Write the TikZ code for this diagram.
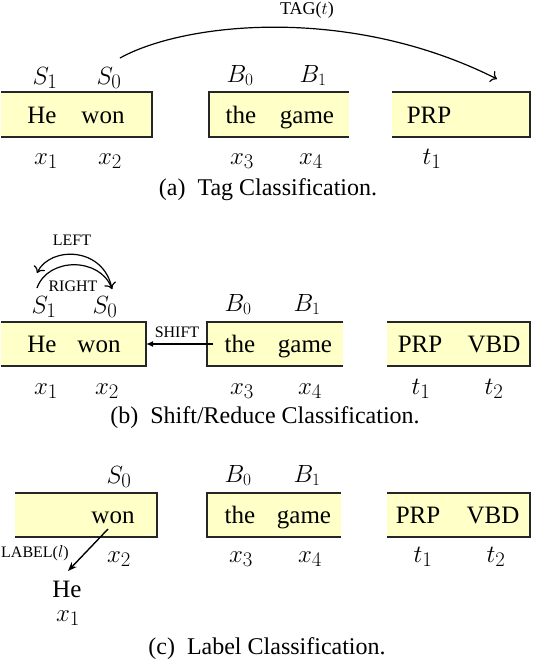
\documentclass[tikz,border=0pt]{standalone}
\usepackage[no-math]{fontspec}
\setmainfont{Liberation Serif}
\usetikzlibrary{arrows.meta}
\definecolor{boxyellow}{RGB}{255,255,200}
\begin{document}
\begin{tikzpicture}[x=1pt,y=-1pt,
  boxfill/.style={fill=boxyellow, draw=none, inner sep=0pt, outer sep=0pt, anchor=north west},
  boxline/.style={line width=1.8pt, draw=black!85},
  word/.style={anchor=base, inner sep=0pt, font=\rmfamily\fontsize{25}{30}\selectfont},
  mlab/.style={anchor=base, inner sep=0pt, font=\fontsize{32}{34}\selectfont},
  slab/.style={anchor=base, inner sep=0pt, font=\fontsize{29}{32}\selectfont},
  blab/.style={anchor=base, inner sep=0pt, font=\fontsize{24}{26}\selectfont},
  small/.style={inner sep=0pt, font=\rmfamily\fontsize{16}{18}\selectfont},
  capt/.style={inner sep=0pt, font=\rmfamily\fontsize{24}{28}\selectfont},
  arcarr/.style={line width=1.2pt, -{To[scale=1.4]}},
  shiftarr/.style={line width=1.4pt, -{Latex[length=7pt,width=6pt]}},
  labarr/.style={line width=1.4pt, -{Stealth[length=9pt,width=7pt]}},
]
\useasboundingbox (0,0) rectangle (534,662);

% ---------- (a) ----------
\node[boxfill, minimum width=151pt, minimum height=45pt] (sa) at (1,92) {};
\draw[boxline] (sa.north west) -- (sa.north east) -- (sa.south east) -- (sa.south west);
\node[boxfill, minimum width=140pt, minimum height=45pt] (ba) at (209,92) {};
\draw[boxline] (ba.north east) -- (ba.north west) -- (ba.south west) -- (ba.south east);
\node[boxfill, minimum width=138pt, minimum height=45pt] (ta) at (392,92) {};
\draw[boxline] (ta.north west) -- (ta.north east) -- (ta.south east) -- (ta.south west);

\node[word] (aHe) at (42,123) {He};
\node[word] (awon) at (103,123) {won};
\node[word] (athe) at (241,123) {the};
\node[word] (agame) at (307,123) {game};
\node[word] (aPRP) at (429,123) {PRP};

\node[slab] (aS1) at (45,84) {$S_1$};
\node[slab] (aS0) at (109,84) {$S_0$};
\node[blab] (aB0) at (240,82) {$B_0$};
\node[blab] (aB1) at (313,82) {$B_1$};

\node[mlab] (ax1) at (46,164) {$x_1$};
\node[mlab] (ax2) at (110,164) {$x_2$};
\node[mlab] (ax3) at (242,164) {$x_3$};
\node[mlab] (ax4) at (311,164) {$x_4$};
\node[mlab] (at1) at (432,164) {$t_1$};

\coordinate (tagstart) at (120,58);
\coordinate (tagend) at (497,79);
\draw[arcarr] (tagstart) .. controls (185,22) and (350,5) .. (tagend);
\node[small, font=\rmfamily\fontsize{18}{20}\selectfont] (tag) at (307,10) {TAG($t$)};

\node[capt] (capa) at (268,190) {(a)\ \ Tag Classification.};

% ---------- (b) ----------
\node[boxfill, minimum width=145pt, minimum height=44pt] (sb) at (1,322) {};
\draw[boxline] (sb.north west) -- (sb.north east) -- (sb.south east) -- (sb.south west);
\node[boxfill, minimum width=136pt, minimum height=44pt] (bb) at (207,322) {};
\draw[boxline] (bb.north east) -- (bb.north west) -- (bb.south west) -- (bb.south east);
\node[boxfill, minimum width=143pt, minimum height=44pt] (tb) at (387,322) {};
\draw[boxline] (tb.north west) -- (tb.north east) -- (tb.south east) -- (tb.south west);

\node[word] (bHe) at (42,352) {He};
\node[word] (bwon) at (99,352) {won};
\node[word] (bthe) at (240,352) {the};
\node[word] (bgame) at (305,352) {game};
\node[word] (bPRP) at (420,352) {PRP};
\node[word] (bVBD) at (494,352) {VBD};

\node[slab] (bS1) at (44,313) {$S_1$};
\node[slab] (bS0) at (105,313) {$S_0$};
\node[blab] (bB0) at (238,311) {$B_0$};
\node[blab] (bB1) at (307,311) {$B_1$};

\node[mlab] (bx1) at (46,394) {$x_1$};
\node[mlab] (bx2) at (107,394) {$x_2$};
\node[mlab] (bx3) at (242,394) {$x_3$};
\node[mlab] (bx4) at (310,394) {$x_4$};
\node[mlab] (bt1) at (421,394) {$t_1$};
\node[mlab] (bt2) at (494,394) {$t_2$};

\coordinate (lstart) at (112,289);
\coordinate (lend) at (37,273);
\draw[arcarr] (lstart) .. controls (104,246) and (50,246) .. (lend);
\coordinate (rstart) at (37,288);
\coordinate (rend) at (112,289);
\draw[arcarr] (rstart) .. controls (48,257) and (100,257) .. (rend);
\node[small] (left) at (72,240) {LEFT};
\node[small] (right) at (73,286) {RIGHT};

\coordinate (shiftstart) at (213,344);
\draw[shiftarr] (shiftstart) -- (sb.east);
\node[small] (shift) at (177,332) {SHIFT};

\node[capt] (capb) at (265,418) {(b)\ \ Shift/Reduce Classification.};

% ---------- (c) ----------
\node[boxfill, minimum width=142pt, minimum height=44pt] (sc) at (15,493) {};
\draw[boxline] (sc.north west) -- (sc.north east) -- (sc.south east) -- (sc.south west);
\node[boxfill, minimum width=134pt, minimum height=44pt] (bc) at (207,493) {};
\draw[boxline] (bc.north east) -- (bc.north west) -- (bc.south west) -- (bc.south east);
\node[boxfill, minimum width=143pt, minimum height=44pt] (tc) at (387,493) {};
\draw[boxline] (tc.north west) -- (tc.north east) -- (tc.south east) -- (tc.south west);

\node[word] (cwon) at (113,523) {won};
\node[word] (cthe) at (240,523) {the};
\node[word] (cgame) at (304,523) {game};
\node[word] (cPRP) at (418,523) {PRP};
\node[word] (cVBD) at (493,523) {VBD};

\node[slab] (cS0) at (119,483) {$S_0$};
\node[blab] (cB0) at (238,482) {$B_0$};
\node[blab] (cB1) at (307,482) {$B_1$};

\node[mlab] (cx2) at (119,562) {$x_2$};
\node[mlab] (cx3) at (241,562) {$x_3$};
\node[mlab] (cx4) at (310,562) {$x_4$};
\node[mlab] (ct1) at (423,562) {$t_1$};
\node[mlab] (ct2) at (496,562) {$t_2$};

\node[word] (cHe) at (67,597) {He};
\node[mlab] (cx1) at (68,621) {$x_1$};

\coordinate (labstart) at (108,529);
\coordinate (labend) at (68,571);
\draw[labarr] (labstart) -- (labend);
\node[small] (lab) at (35,553) {LABEL($l$)};

\node[capt] (capc) at (267,649) {(c)\ \ Label Classification.};
\end{tikzpicture}
\end{document}
